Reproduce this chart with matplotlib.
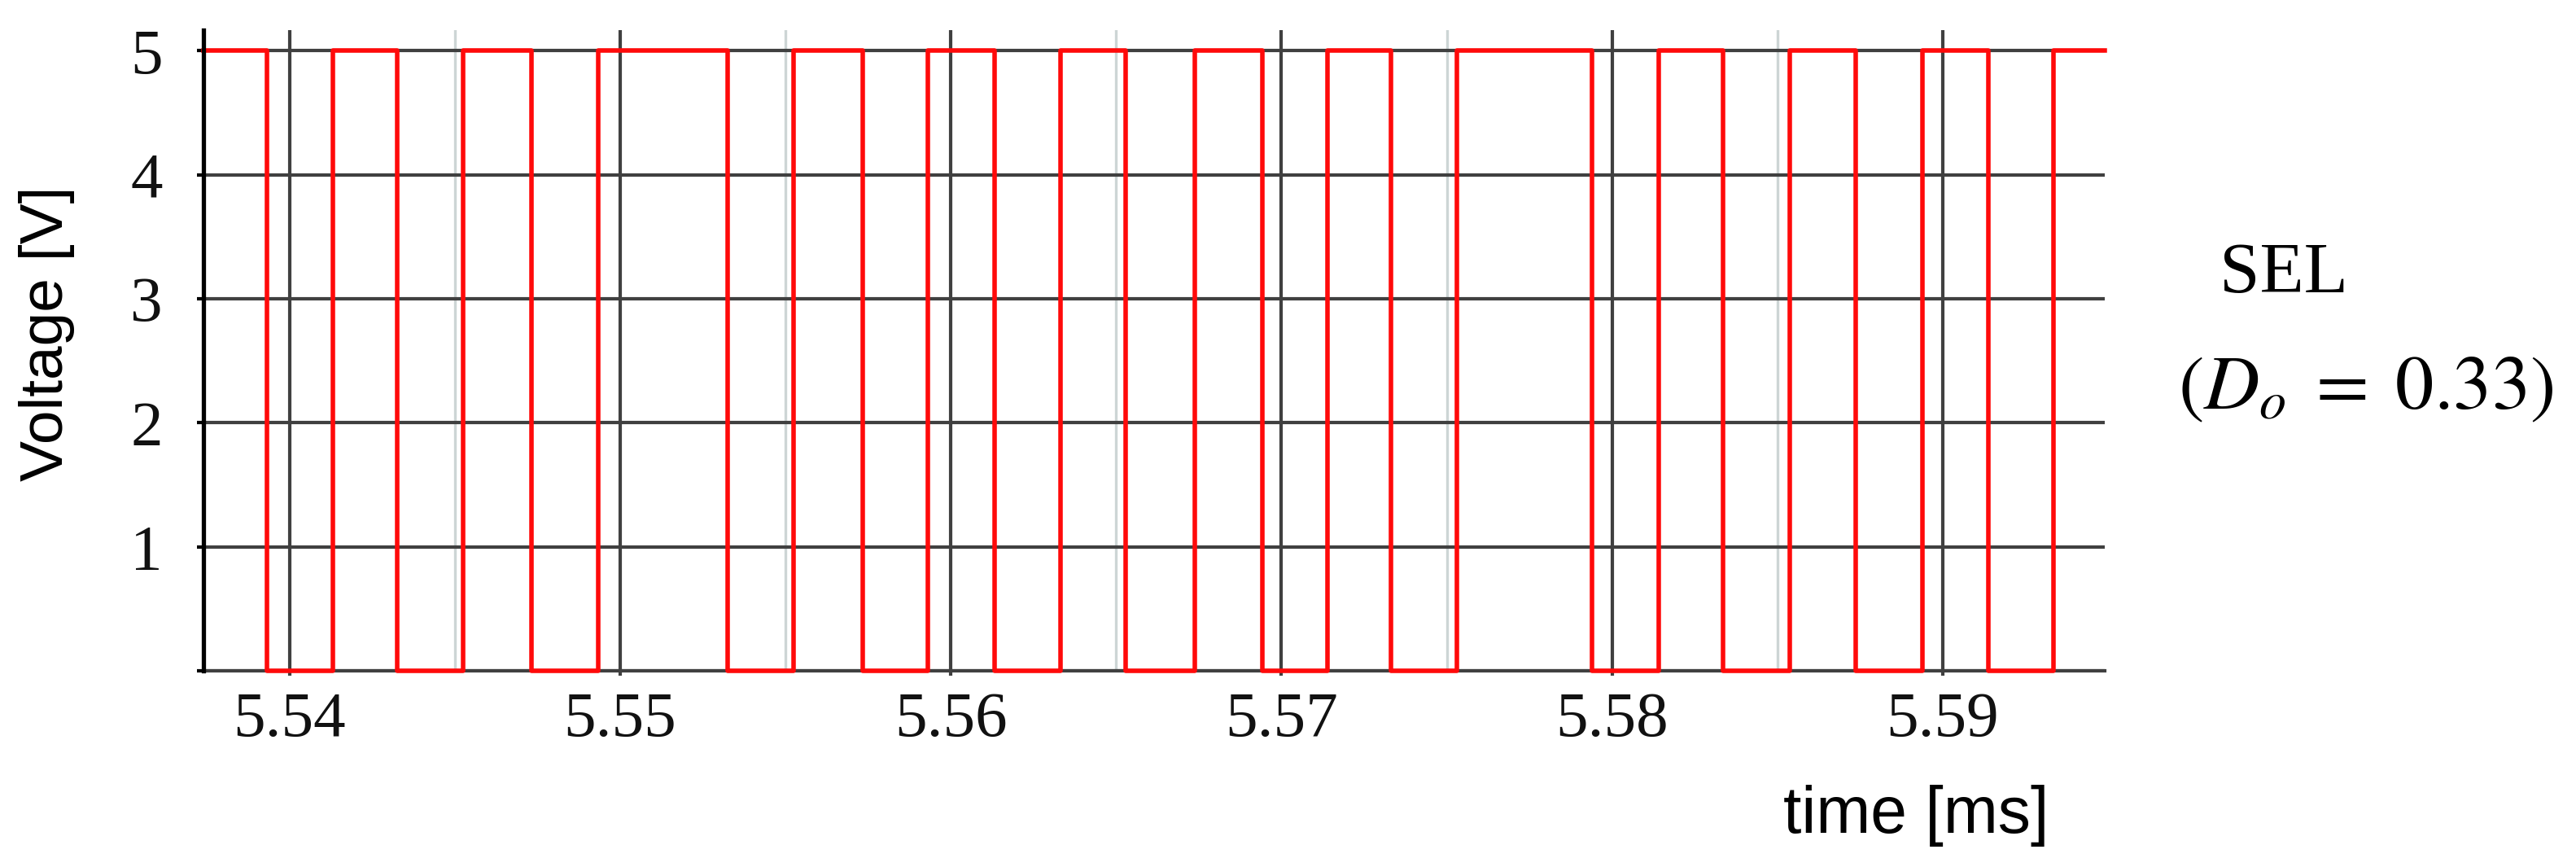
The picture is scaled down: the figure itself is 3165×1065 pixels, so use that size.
import matplotlib
matplotlib.use("Agg")
import matplotlib.pyplot as plt
import numpy as np

# Switching signal: edge times [ms] and level after each edge [V]
edge_times = [5.5374, 5.53931, 5.54131, 5.54325, 5.54524, 5.54732, 5.54933,
              5.55325, 5.55525, 5.55733, 5.55930, 5.56132, 5.56331, 5.56530,
              5.56738, 5.56942, 5.57139, 5.57332, 5.57531, 5.57939, 5.58140,
              5.58335, 5.58538, 5.58736, 5.58939, 5.59138, 5.59336, 5.5949]
levels = [5, 0, 5, 0, 5, 0, 5,
          0, 5, 0, 5, 0, 5, 0,
          5, 0, 5, 0, 5, 0, 5,
          0, 5, 0, 5, 0, 5, 5]

x_ticks = [5.54, 5.55, 5.56, 5.57, 5.58, 5.59]
x_tick_labels = ["5.54", "5.55", "5.56", "5.57", "5.58", "5.59"]
x_minor = [5.545, 5.555, 5.565, 5.575, 5.585]
y_ticks = [0, 1, 2, 3, 4, 5]
y_tick_labels = ["", "1", "2", "3", "4", "5"]

plt.rcParams["mathtext.fontset"] = "stix"

W, H, dpi = 3165, 1065, 100
fig = plt.figure(figsize=(W / dpi, H / dpi), dpi=dpi)
ax = fig.add_axes([250 / W, 1 - 824 / H, (2586 - 250) / W, (824 - 37) / H])

grid_col = "#404040"
ax.set_xlim(edge_times[0], edge_times[-1])
ax.set_ylim(0, 5.167)

ax.set_xticks(x_ticks)
ax.set_xticklabels(x_tick_labels, family="Liberation Serif", fontsize=57, color="#111111")
ax.set_xticks(x_minor, minor=True)
ax.set_yticks(y_ticks)
ax.set_yticklabels(y_tick_labels, family="Liberation Serif", fontsize=57, color="#111111")

ax.tick_params(axis="x", which="major", direction="out", length=4.5, width=3.0,
               color=grid_col, pad=14)
ax.tick_params(axis="x", which="minor", length=0)
ax.tick_params(axis="y", direction="out", length=6, width=3, color="black", pad=30)

ax.grid(which="major", color=grid_col, lw=3.0, zorder=1)
ax.grid(which="minor", axis="x", color="#cdd5d5", lw=2.4, zorder=1)
ax.set_axisbelow(True)

for s in ["top", "right"]:
    ax.spines[s].set_visible(False)
ax.spines["bottom"].set_color(grid_col)
ax.spines["bottom"].set_linewidth(3.0)
ax.spines["left"].set_color("black")
ax.spines["left"].set_linewidth(3.8)
ax.spines["left"].set_zorder(4)

ax.step(edge_times, levels, where="post", color="#ff0a0a", lw=4.0, zorder=3,
        clip_on=False)

ax.set_ylabel("Voltage [V]", family="Liberation Sans", fontsize=54, va="center")
ax.yaxis.set_label_coords((58 - 250) / (2586 - 250), (824 - 410) / (824 - 37))
ax.set_xlabel("time [ms]", family="Liberation Sans", fontsize=58, ha="right", va="bottom")
ax.xaxis.set_label_coords((2517 - 250) / (2586 - 250), (824 - 1040) / (824 - 37))

fig.text(2806 / W, 1 - 338 / H, "SEL", family="Liberation Serif", fontsize=64,
         ha="center", va="center")
fig.text(2907 / W, 1 - 476 / H, r"$(D_o\;=\;0.33)$", fontsize=68,
         ha="center", va="center")

fig.savefig("out.png", dpi=dpi, facecolor="white")
